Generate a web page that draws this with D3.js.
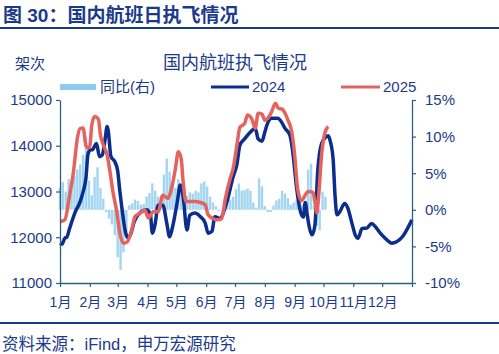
<!DOCTYPE html>
<html><head><meta charset="utf-8">
<script src="https://cdn.jsdelivr.net/npm/d3@7/dist/d3.min.js"></script>
<style>
html,body{margin:0;padding:0;background:#fff;}
svg{display:block;font-family:"Liberation Sans","Noto Sans CJK SC",sans-serif;}
</style></head><body>
<svg id="c" width="499" height="354"></svg>
<script>
// ---- data ----
const monthLabels = ["1月","2月","3月","4月","5月","6月","7月","8月","9月","10月","11月","12月"];
const monthStartDays = [0,31,60,91,121,152,182,213,244,274,305,335,366];
const leftTicks = [11000,12000,13000,14000,15000];
const rightTicks = [-10,-5,0,5,10,15];

const days2024 = [0,2,5,7,10,16,21,24,27,29,31,34,38,41,44,47,49,50,53,57,60,62,64,68,71,74,77,83,90,94,96,99,102,107,111,114,117,122,125,128,132,135,140,146,151,154,158,161,166,174,180,184,187,192,198,203,206,210,213,216,220,226,229,234,239,242,246,250,253,255,257,259,262,265,268,272,276,279,281,284,286,288,291,296,299,304,307,310,314,319,324,328,333,338,341,345,350,356,361,366];
const vals2024 = [11870,11850,11980,12000,12195,12560,12780,12990,13300,13800,13900,13920,14050,13760,13800,14160,14420,14350,13760,13650,13450,13050,12700,12120,11980,12100,12330,12530,12600,12500,12090,12300,12700,12700,12310,12010,12220,12780,13140,12890,12160,12480,12530,12450,12310,12090,12130,12450,12410,12810,13320,13600,14010,14150,14300,14380,14150,14100,14300,14500,14600,14600,14560,14380,14230,13870,13080,12560,12440,12760,12500,12240,12050,12250,13450,14050,14180,14220,14100,13700,12900,12490,12560,12740,12650,12270,12050,11980,12190,12200,12300,12230,12090,11980,11920,11870,11900,12010,12180,12380];

const days2025 = [0,5,10,14,18,21,24,27,29,31,33,36,40,42,45,49,52,55,59,62,66,70,75,78,83,88,92,97,102,107,112,116,120,123,126,128,131,140,146,151,154,159,164,168,172,177,180,184,187,192,195,200,203,206,210,213,216,220,224,227,231,234,237,241,244,247,251,253,258,263,265,267,269,272,276,279];
const vals2025 = [12340,12380,12920,13430,14160,14380,14390,14000,13950,13990,14450,14640,14580,14240,14020,13800,13430,13000,12560,12120,11870,11900,12200,12450,12520,12600,12420,12560,12560,12920,12850,13070,13500,13870,13720,13220,12780,12780,12760,12710,12490,12410,12380,12400,12850,13290,13500,14020,14400,14490,14670,14560,14380,14710,14690,14560,14600,14740,14930,14820,14800,14710,14560,14300,13800,13070,12800,12850,13000,12980,12780,12530,12920,13800,14320,14420];

const yoyStepDays = 3;
const yoyVals = [3.0,3.8,2.5,4.2,3.2,4.6,5.5,6.2,7.5,10.0,4.0,2.0,4.5,5.8,3.0,1.5,-0.3,-1.2,-2.0,-3.5,-6.5,-8.2,-5.8,-3.0,0.6,0.9,1.4,1.2,0.7,0.8,1.8,2.3,3.6,2.6,1.8,1.9,4.8,7.0,5.2,3.8,3.0,4.2,3.4,2.0,1.9,2.4,2.2,2.6,2.4,3.6,3.9,3.2,1.8,1.0,0.5,-0.2,-0.1,0.9,1.5,1.4,1.8,2.8,3.6,2.6,2.7,2.9,2.6,1.0,0.3,4.3,3.2,0.5,-0.3,-0.3,0.6,1.3,1.5,2.6,2.2,1.6,0.7,1.0,1.4,2.0,0.7,0.8,5.5,6.3,0.5,-2.2,-2.8,2.5,1.8];

// ---- drawing ----
const svg = d3.select("#c");
const navy = "#1c3a8a";
const axisCol = "#2f5f7e";
const blue = "#0b2d8e";
const red = "#e5635f";
const barCol = "#8ccbee";

const x = d3.scaleLinear().domain([0,366]).range([60,412]);
const yL = d3.scaleLinear().domain([11000,15000]).range([283,100]);
const yR = d3.scaleLinear().domain([-10,15]).range([283,100]);

// header
svg.append("text").attr("x",3).attr("y",22).attr("fill",navy)
  .attr("font-size",19).attr("font-weight","bold").text("图 30：国内航班日执飞情况");
svg.append("rect").attr("x",0).attr("y",27).attr("width",499).attr("height",2).attr("fill",navy);
svg.append("rect").attr("x",0).attr("y",322).attr("width",499).attr("height",2).attr("fill",navy);
svg.append("text").attr("x",2).attr("y",350).attr("fill",navy)
  .attr("font-size",16.5).text("资料来源：iFind，申万宏源研究");

// chart title & unit
svg.append("text").attr("x",235).attr("y",69).attr("text-anchor","middle").attr("fill",navy)
  .attr("font-size",18).text("国内航班执飞情况");
svg.append("text").attr("x",15).attr("y",69).attr("fill",navy).attr("font-size",15).text("架次");

// legend
const lg = svg.append("g").attr("font-size",15).attr("fill",navy);
lg.append("rect").attr("x",60).attr("y",84).attr("width",36).attr("height",6).attr("fill",barCol);
lg.append("text").attr("x",100).attr("y",92).text("同比(右)");
lg.append("line").attr("x1",211).attr("x2",249).attr("y1",87).attr("y2",87).attr("stroke",blue).attr("stroke-width",3);
lg.append("text").attr("x",252).attr("y",92).text("2024");
lg.append("line").attr("x1",341).attr("x2",380).attr("y1",87).attr("y2",87).attr("stroke",red).attr("stroke-width",3);
lg.append("text").attr("x",383).attr("y",92).text("2025");

// bars
const bars = yoyVals.map((v,i)=>({d:i*yoyStepDays, v}));
svg.append("g").selectAll("rect").data(bars).join("rect")
  .attr("x",b=>x(b.d)-1.2).attr("width",2.4)
  .attr("y",b=>Math.min(yR(b.v),yR(0)))
  .attr("height",b=>Math.abs(yR(b.v)-yR(0)))
  .attr("fill",barCol).attr("opacity",0.8);

// lines
const line = d3.line().x(p=>x(p[0])).y(p=>yL(p[1])).curve(d3.curveMonotoneX);
svg.append("path").datum(days2024.map((d,i)=>[d,vals2024[i]])).attr("d",line)
  .attr("fill","none").attr("stroke",blue).attr("stroke-width",3.5).attr("stroke-linejoin","round");
svg.append("path").datum(days2025.map((d,i)=>[d,vals2025[i]])).attr("d",line)
  .attr("fill","none").attr("stroke",red).attr("stroke-width",3.5).attr("stroke-linejoin","round");

// axes
function styleAxis(g){
  g.selectAll("path.domain").attr("stroke",axisCol).attr("stroke-width",1.3);
  g.selectAll(".tick line").attr("stroke",axisCol).attr("stroke-width",1.2);
  g.selectAll(".tick text").attr("fill",navy).attr("font-family","Liberation Sans, Noto Sans CJK SC, sans-serif");
}
const gl = svg.append("g").attr("transform","translate(60,0)")
  .call(d3.axisLeft(yL).tickValues(leftTicks).tickSize(4).tickSizeOuter(0).tickPadding(4).tickFormat(d3.format("d")));
gl.attr("font-size",15); styleAxis(gl);
const gr = svg.append("g").attr("transform","translate(412,0)")
  .call(d3.axisRight(yR).tickValues(rightTicks).tickSize(4).tickSizeOuter(0).tickPadding(9).tickFormat(d=>d+"%"));
gr.attr("font-size",15); styleAxis(gr);
const gx = svg.append("g").attr("transform","translate(0,283)")
  .call(d3.axisBottom(x).tickValues(monthStartDays).tickSize(4).tickSizeOuter(0).tickPadding(10)
    .tickFormat((d,i)=>monthLabels[i]||""));
gx.attr("font-size",14); styleAxis(gx);
</script>
</body></html>
